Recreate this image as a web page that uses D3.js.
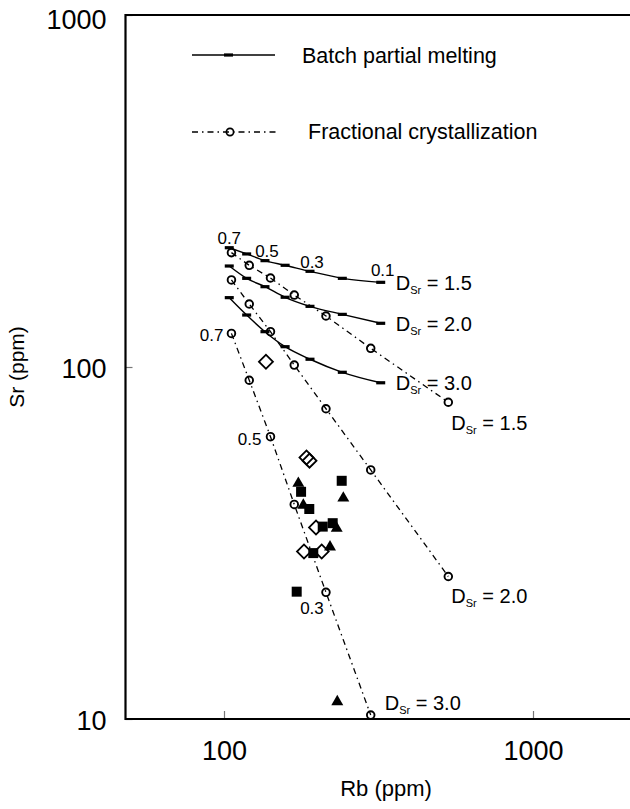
<!DOCTYPE html>
<html><head><meta charset="utf-8">
<script src="https://cdn.jsdelivr.net/npm/d3@7"></script>
<style>
html,body{margin:0;padding:0;background:#fff;}
svg{display:block;font-family:"Liberation Sans",Arial,Helvetica,sans-serif;}
</style></head>
<body>
<svg id="c" width="630" height="809"></svg>
<script>
// ---- data ----
const fValues = [0.7, 0.6, 0.5, 0.4, 0.3, 0.2, 0.1];
const rbBatch = [104, 118.4, 135.7, 157.7, 189.8, 241.5, 321.5];
const srBatch15 = [218.2, 209.5, 200.5, 194.5, 187.0, 178.6, 174.0];
const srBatch20 = [193.6, 178.6, 169.1, 157.8, 148.7, 141.1, 133.1];
const srBatch30 = [157.4, 140.5, 126.0, 114.2, 105.2, 96.6, 90.2];
const rbFC = [105.7, 120.7, 141.4, 168.8, 213.8, 298.4, 532];
const srFC15 = [211.3, 194.5, 179.0, 160.1, 139.6, 113.0, 79.4];
const srFC20 = [176.7, 151.0, 126.0, 101.3, 76.1, 51.0, 25.4];
const srFC30 = [124.6, 91.7, 63.4, 40.7, 22.9, 10.26];
const dLabels = ["1.5", "2.0", "3.0"];

const sqRb = [177.6, 240.4, 188.8, 208.7, 224.8, 194.5, 171.9];
const sqSr = [44.2, 47.5, 39.5, 35.2, 36.0, 29.6, 23.0];
const triRb = [174.0, 243.3, 180.6, 231.6, 220.3, 232.6];
const triSr = [46.7, 42.4, 40.5, 34.8, 30.8, 11.2];
const diaRb = [136.7, 184.9, 189.1, 198.5, 181.5, 207.1];
const diaSr = [103.5, 55.3, 54.2, 35.0, 29.9, 29.9];

const xTicks = [100, 1000];
const yTicks = [10, 100, 1000];
const legendLabels = ["Batch partial melting", "Fractional crystallization"];
const xTitle = "Rb (ppm)";
const yTitle = "Sr (ppm)";

(function () {
// ---- scales ----
const svg = d3.select("#c");
const x = d3.scaleLog().domain([100, 1000]).range([224, 533]);
const y = d3.scaleLog().domain([10, 1000]).range([719, 15]);
const pL = 125.5, pR = 630, pT = y(1000), pB = y(10);

const zip = (a, b) => a.map((v, i) => [v, b[i]]);
const dash = "6,4,1.5,4";

// axes
const gx = svg.append("g").attr("transform", `translate(0,${pB})`)
  .call(d3.axisBottom(x).tickValues(xTicks).tickFormat(d3.format("d")).tickSize(-8).tickSizeOuter(0));
gx.select(".domain").remove();
gx.selectAll(".tick line").attr("stroke", "#777").attr("stroke-width", 1.2);
gx.selectAll(".tick text").attr("y", 41).attr("dy", 0).attr("font-size", 27).attr("fill", "#000")
  .attr("font-family", "Liberation Sans, Arial, sans-serif");

const gy = svg.append("g").attr("transform", `translate(${pL},0)`)
  .call(d3.axisLeft(y).tickValues(yTicks).tickFormat(d3.format("d")).tickSize(-7).tickSizeOuter(0));
gy.select(".domain").remove();
gy.selectAll(".tick line").attr("stroke", "#777").attr("stroke-width", 1.2);
gy.selectAll(".tick text").attr("x", -19).attr("y", d => d === 1000 ? 4 : 1).attr("dy", "0.36em")
  .attr("font-size", 27).attr("fill", "#000")
  .attr("font-family", "Liberation Sans, Arial, sans-serif");

// frame
svg.append("path")
  .attr("d", `M${pR},${pT}H${pL}V${pB}H${pR}`)
  .attr("fill", "none").attr("stroke", "#000").attr("stroke-width", 2.2);

// titles
svg.append("text").attr("x", 386).attr("y", 796).attr("text-anchor", "middle")
  .attr("font-size", 22).text(xTitle);
svg.append("text").attr("transform", "translate(24,367) rotate(-90)").attr("text-anchor", "middle")
  .attr("font-size", 21).text(yTitle);

// ---- curves ----
const batchLine = d3.line().x(d => x(d[0])).y(d => y(d[1])).curve(d3.curveMonotoneX);
const fcLine = d3.line().x(d => x(d[0])).y(d => y(d[1]));

const batchSets = [srBatch15, srBatch20, srBatch30].map(s => zip(rbBatch, s));
const fcSets = [srFC15, srFC20, srFC30].map(s => zip(rbFC.slice(0, s.length), s));

batchSets.forEach(pts => {
  svg.append("path").attr("d", batchLine(pts)).attr("fill", "none")
    .attr("stroke", "#000").attr("stroke-width", 1.4);
  svg.selectAll(null).data(pts).enter().append("rect")
    .attr("x", d => x(d[0]) - 4.5).attr("y", d => y(d[1]) - 1.6)
    .attr("width", 9).attr("height", 3.2).attr("fill", "#000");
});

fcSets.forEach(pts => {
  svg.append("path").attr("d", fcLine(pts)).attr("fill", "none")
    .attr("stroke", "#000").attr("stroke-width", 1.3).attr("stroke-dasharray", dash);
  svg.selectAll(null).data(pts).enter().append("circle")
    .attr("cx", d => x(d[0])).attr("cy", d => y(d[1])).attr("r", 3.8)
    .attr("fill", "none").attr("stroke", "#000").attr("stroke-width", 1.9);
});

// D labels
function dLabel(px, py, val) {
  const t = svg.append("text").attr("x", px).attr("y", py).attr("font-size", 20);
  t.append("tspan").text("D");
  t.append("tspan").attr("font-size", 11).attr("dy", 4).text("Sr");
  t.append("tspan").attr("dy", -4).text(" = " + val);
}
batchSets.forEach((pts, i) => {
  const p = pts[pts.length - 1];
  dLabel(x(p[0]) + 15, y(p[1]) + 7.5, dLabels[i]);
});
const fcOff = [[3, 28], [3, 27], [14, -5]];
fcSets.forEach((pts, i) => {
  const p = pts[pts.length - 1];
  dLabel(x(p[0]) + fcOff[i][0], y(p[1]) + fcOff[i][1], dLabels[i]);
});

// F labels on batch D=1.5 curve
[0, 2, 4, 6].forEach(i => {
  const p = batchSets[0][i];
  svg.append("text").attr("x", x(p[0]) + (i === 0 ? 0 : 2)).attr("y", y(p[1]) - (i === 6 ? 6 : 3.5))
    .attr("text-anchor", "middle").attr("font-size", 17).text(fValues[i]);
});
// F labels on FC D=3.0 curve
{
  const p0 = fcSets[2][0], p2 = fcSets[2][2], p4 = fcSets[2][4];
  svg.append("text").attr("x", x(p0[0]) - 8).attr("y", y(p0[1]) + 8)
    .attr("text-anchor", "end").attr("font-size", 17).text(fValues[0]);
  svg.append("text").attr("x", x(p2[0]) - 9).attr("y", y(p2[1]) + 8)
    .attr("text-anchor", "end").attr("font-size", 17).text(fValues[2]);
  svg.append("text").attr("x", x(p4[0]) - 14).attr("y", y(p4[1]) + 22)
    .attr("text-anchor", "middle").attr("font-size", 17).text(fValues[4]);
}

// ---- samples ----
const diaSym = d3.symbol().type(d3.symbolSquare).size(98);
svg.selectAll(null).data(zip(diaRb, diaSr)).enter().append("path")
  .attr("d", diaSym).attr("transform", d => `translate(${x(d[0])},${y(d[1])}) rotate(45)`)
  .attr("fill", "none").attr("stroke", "#000").attr("stroke-width", 1.8);
const sqSym = d3.symbol().type(d3.symbolSquare).size(100);
svg.selectAll(null).data(zip(sqRb, sqSr)).enter().append("path")
  .attr("d", sqSym).attr("transform", d => `translate(${x(d[0])},${y(d[1])})`).attr("fill", "#000");
const triSym = d3.symbol().type(d3.symbolTriangle).size(62);
svg.selectAll(null).data(zip(triRb, triSr)).enter().append("path")
  .attr("d", triSym).attr("transform", d => `translate(${x(d[0])},${y(d[1])})`).attr("fill", "#000");

// ---- legend ----
svg.append("line").attr("x1", 192).attr("x2", 275).attr("y1", 55).attr("y2", 55)
  .attr("stroke", "#000").attr("stroke-width", 1.4);
svg.append("rect").attr("x", 224).attr("y", 53.4).attr("width", 9).attr("height", 3.2).attr("fill", "#000");
svg.append("text").attr("x", 302).attr("y", 62.5).attr("font-size", 21.5).text(legendLabels[0]);

svg.append("line").attr("x1", 192).attr("x2", 277).attr("y1", 132).attr("y2", 132)
  .attr("stroke", "#000").attr("stroke-width", 1.3).attr("stroke-dasharray", dash);
svg.append("circle").attr("cx", 230).attr("cy", 132).attr("r", 3.6)
  .attr("fill", "none").attr("stroke", "#000").attr("stroke-width", 1.7);
svg.append("text").attr("x", 308).attr("y", 139).attr("font-size", 21.5).text(legendLabels[1]);
})();
</script>
</body></html>
